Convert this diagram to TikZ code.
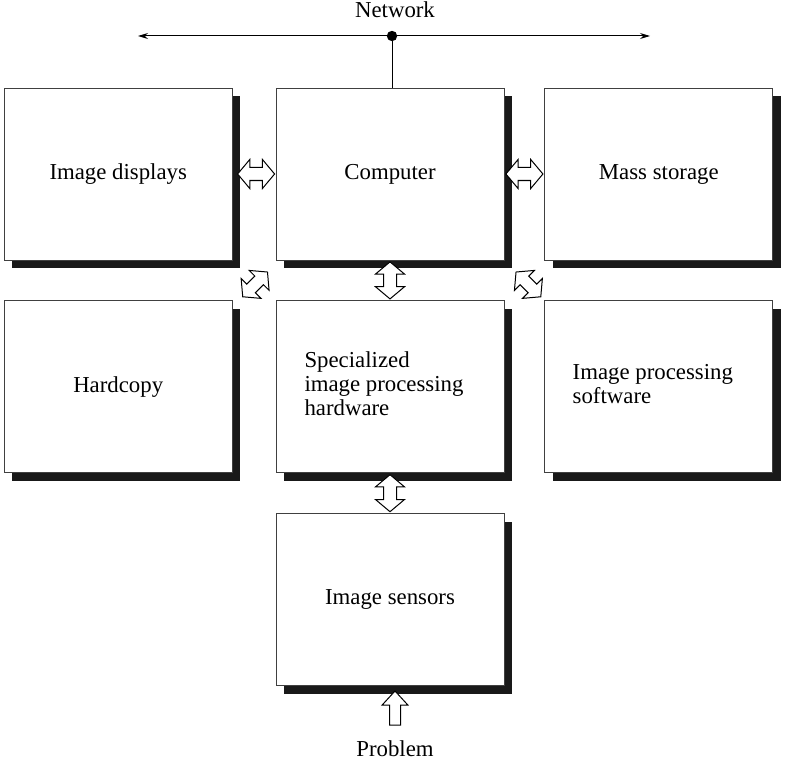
\documentclass[tikz,border=0pt]{standalone}
\usepackage{fontspec}
\setmainfont{Liberation Serif}
\usepackage{tikz}
\usetikzlibrary{positioning, shapes.arrows, shadows, calc, arrows.meta}
\tikzstyle{block} = [rectangle, draw=black!75, line width=0.4pt, fill=white, minimum width=114pt, minimum height=86pt, align=center, font=\fontsize{11.4}{12}\selectfont, drop shadow={shadow xshift=4pt, shadow yshift=-4pt, fill=black!90, opacity=1}]
\tikzstyle{link} = [double arrow, draw=black, fill=white, line width=0.5pt, inner xsep=0pt, inner ysep=3pt, minimum height=18.5pt, double arrow head extend=4pt, double arrow tip angle=100]
\tikzstyle{feed} = [single arrow, draw=black, fill=white, line width=0.5pt, inner xsep=0pt, inner ysep=2.5pt, minimum height=17pt, single arrow head extend=3.75pt, single arrow tip angle=85, rotate=90]
\tikzstyle{arrow} = [line width=0.5pt, {Stealth[length=5pt, width=3pt]}-{Stealth[length=5pt, width=3pt]}]

\begin{document}
\begin{tikzpicture}[x=0.5pt, y=-0.5pt]
\useasboundingbox (0,0) rectangle (785,759);
% boxes
\node [block] (computer) at (390,174) {Computer};
\node [block, left=21.5pt of computer] (displays) {Image displays};
\node [block, right=20pt of computer] (storage) {Mass storage};
\node [block, below=20pt of computer] (hardware) {\begin{tabular}{@{}l@{}}Specialized\\image processing\\hardware\end{tabular}\kern6pt};
\node [block, below=20pt of displays] (hardcopy) {Hardcopy};
\node [block, below=20pt of storage] (software) {\begin{tabular}{@{}l@{}}Image processing\\software\end{tabular}\kern6pt};
\node [block, below=20pt of hardware] (sensors) {Image sensors};

% network
\coordinate (netL) at (138,36);
\coordinate (netR) at (650,36);
\coordinate (hub) at (392,36);
\draw [arrow] (netL) -- (netR);
\fill (hub) circle (2.6pt);
\draw [line width=0.5pt] (hub) -- (hub |- computer.north);
\node [font=\fontsize{11.4}{12}\selectfont] (network) at (395,10) {Network};

% links between boxes
\node [link] (l1) at ($(displays.east)!0.5!(computer.west)+(2,0)$) {};
\node [link] (l2) at ($(computer.east)!0.5!(storage.west)$) {};
\node [link, rotate=90] (l3) at ($(computer.south)!0.5!(hardware.north)$) {};
\node [link, rotate=90] (l4) at ($(hardware.south)!0.5!(sensors.north)$) {};
\node [link, rotate=45, minimum height=17.5pt, inner ysep=2.8pt] (l5) at ($(displays.south east)!0.5!(hardware.north west)+(1,4)$) {};
\node [link, rotate=-45, minimum height=17.5pt, inner ysep=2.8pt] (l6) at ($(computer.south east)!0.5!(software.north west)+(4,4)$) {};

% problem input
\node [feed] (input) at (395,711) {};
\node [font=\fontsize{11.4}{12}\selectfont] (problem) at (395,749) {Problem};
\end{tikzpicture}
\end{document}
